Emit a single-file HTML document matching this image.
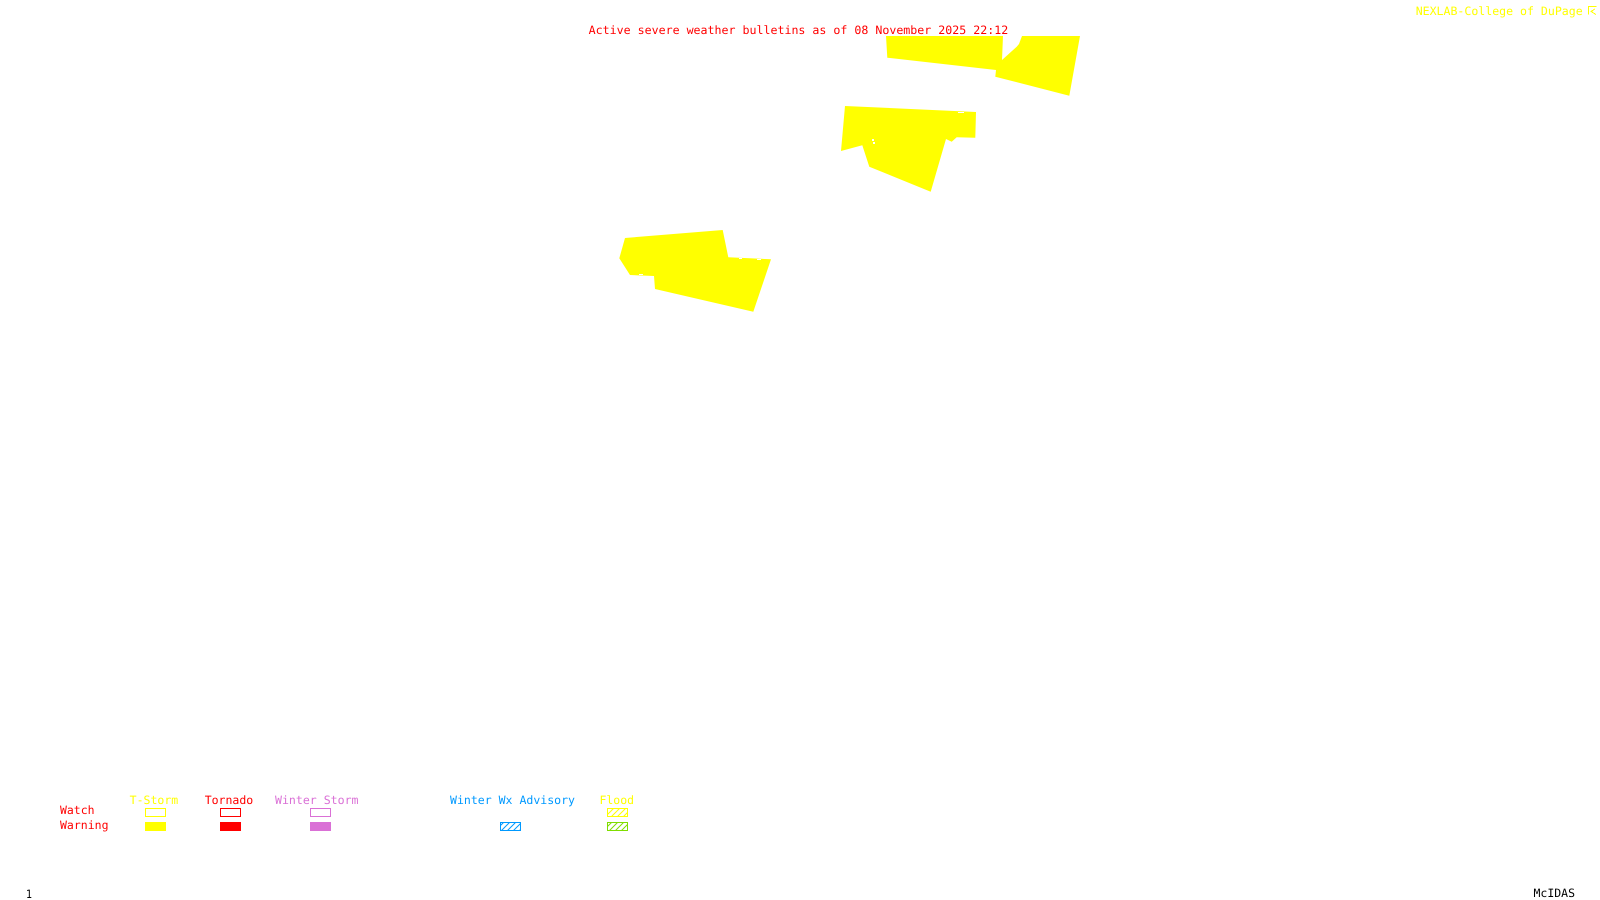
<!DOCTYPE html>
<html>
<head>
<meta charset="utf-8">
<style>
html,body{margin:0;padding:0;background:#fff;width:1600px;height:900px;overflow:hidden}
svg{display:block}
text{font-family:"DejaVu Sans Mono","Liberation Mono",monospace;font-size:11.5px;text-rendering:geometricPrecision}
</style>
</head>
<body>
<svg width="1600" height="900" viewBox="0 0 1600 900" xmlns="http://www.w3.org/2000/svg">
<defs>
<pattern id="hb" width="6" height="6" patternUnits="userSpaceOnUse"><path d="M-1 7L7 -1M-1 1L1 -1M5 7L7 5" stroke="#0099ff" stroke-width="1"/></pattern>
<pattern id="hy" width="6" height="6" patternUnits="userSpaceOnUse"><path d="M-1 7L7 -1M-1 1L1 -1M5 7L7 5" stroke="#ffff00" stroke-width="1"/></pattern>
<pattern id="hg" width="6" height="6" patternUnits="userSpaceOnUse"><path d="M-1 7L7 -1M-1 1L1 -1M5 7L7 5" stroke="#7fdd00" stroke-width="1"/></pattern>
</defs>
<rect width="1600" height="900" fill="#fff"/>

<g fill="#ffff00">
<polygon points="886,36 1003,36 1002,60 1016.7,46.7 1019,44 1022,36 1080,36 1069.3,95.7 995.3,76.7 996,70 887.3,57.7"/>
<polygon points="845,106 976,112 975.3,137.7 956.7,137.3 951.7,141.7 946,139 930.7,191.7 869.3,166.7 862.3,145.3 841,151"/>
<polygon points="625,238 722.7,230 728.3,257.3 771,259.3 753.3,311.7 655,289 654,276 630,275 619.3,258.3"/>
</g>
<g fill="#fff" shape-rendering="crispEdges">
<rect x="872" y="139" width="2" height="2"/>
<rect x="873" y="142" width="2" height="2"/>
<rect x="958" y="112" width="6" height="1"/>
<rect x="739" y="258" width="3" height="1"/>
<rect x="757" y="259" width="4" height="1"/>
<rect x="639" y="274" width="4" height="1"/>
</g>

<text x="588.700" y="34" fill="#ff0000" textLength="419.500" lengthAdjust="spacingAndGlyphs">Active severe weather bulletins as of 08 November 2025 22:12</text>
<text x="1415.700" y="15" fill="#ffff00" textLength="167" lengthAdjust="spacingAndGlyphs">NEXLAB-College of DuPage</text>
<g fill="none" stroke="#ffff00" stroke-width="1" shape-rendering="crispEdges">
<path d="M1596.500 6.500H1588.500V14.500M1595 9L1591 11.500L1596 14.500"/>
</g>

<text x="129.700" y="804" fill="#ffff00" textLength="48.500" lengthAdjust="spacingAndGlyphs">T-Storm</text>
<text x="204.700" y="804" fill="#ff0000" textLength="48.500" lengthAdjust="spacingAndGlyphs">Tornado</text>
<text x="275" y="804" fill="#da70d6" textLength="83.500" lengthAdjust="spacingAndGlyphs">Winter Storm</text>
<text x="450" y="804" fill="#0099ff" textLength="125" lengthAdjust="spacingAndGlyphs">Winter Wx Advisory</text>
<text x="599.500" y="804" fill="#ffff00" textLength="34.500" lengthAdjust="spacingAndGlyphs">Flood</text>
<text x="60" y="814" fill="#ff0000" textLength="34.500" lengthAdjust="spacingAndGlyphs">Watch</text>
<text x="60" y="829" fill="#ff0000" textLength="48.500" lengthAdjust="spacingAndGlyphs">Warning</text>

<g shape-rendering="crispEdges" stroke-width="1">
<rect x="145.500" y="808.500" width="20" height="8" fill="none" stroke="#ffff00"/>
<rect x="220.500" y="808.500" width="20" height="8" fill="none" stroke="#ff0000"/>
<rect x="310.500" y="808.500" width="20" height="8" fill="none" stroke="#da70d6"/>
<rect x="145" y="822" width="21" height="9" fill="#ffff00"/>
<rect x="220" y="822" width="21" height="9" fill="#ff0000"/>
<rect x="310" y="822" width="21" height="9" fill="#da70d6"/>
</g>
<g stroke-width="1">
<rect x="500.500" y="822.500" width="20" height="8" fill="url(#hb)" stroke="#0099ff" shape-rendering="crispEdges"/>
<rect x="607.500" y="808.500" width="20" height="8" fill="url(#hy)" stroke="#ffff00" shape-rendering="crispEdges"/>
<rect x="607.500" y="822.500" width="20" height="8" fill="url(#hg)" stroke="#7fdd00" shape-rendering="crispEdges"/>
</g>

<text x="26" y="898" fill="#000" textLength="6" lengthAdjust="spacingAndGlyphs">1</text>
<text x="1533.500" y="897" fill="#000" textLength="41.500" lengthAdjust="spacingAndGlyphs">McIDAS</text>
</svg>
</body>
</html>
